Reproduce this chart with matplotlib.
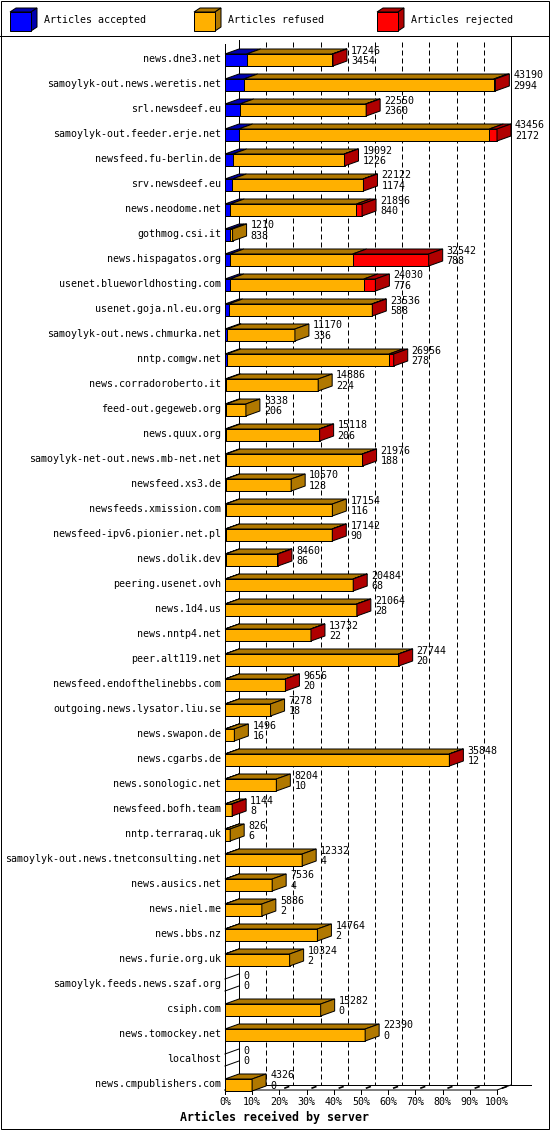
import numpy as np
import matplotlib
matplotlib.use("Agg")
import matplotlib.pyplot as plt
from matplotlib.patches import Polygon, Rectangle

# servers, top to bottom
hosts = [
    "news.dne3.net", "samoylyk-out.news.weretis.net", "srl.newsdeef.eu",
    "samoylyk-out.feeder.erje.net", "newsfeed.fu-berlin.de", "srv.newsdeef.eu",
    "news.neodome.net", "gothmog.csi.it", "news.hispagatos.org",
    "usenet.blueworldhosting.com", "usenet.goja.nl.eu.org",
    "samoylyk-out.news.chmurka.net", "nntp.comgw.net", "news.corradoroberto.it",
    "feed-out.gegeweb.org", "news.quux.org", "samoylyk-net-out.news.mb-net.net",
    "newsfeed.xs3.de", "newsfeeds.xmission.com", "newsfeed-ipv6.pionier.net.pl",
    "news.dolik.dev", "peering.usenet.ovh", "news.1d4.us", "news.nntp4.net",
    "peer.alt119.net", "newsfeed.endofthelinebbs.com",
    "outgoing.news.lysator.liu.se", "news.swapon.de", "news.cgarbs.de",
    "news.sonologic.net", "newsfeed.bofh.team", "nntp.terraraq.uk",
    "samoylyk-out.news.tnetconsulting.net", "news.ausics.net", "news.niel.me",
    "news.bbs.nz", "news.furie.org.uk", "samoylyk.feeds.news.szaf.org",
    "csiph.com", "news.tomockey.net", "localhost", "news.cmpublishers.com",
]
total = [17246, 43190, 22550, 43456, 19092, 22122, 21896, 1210, 32542, 24030,
         23536, 11170, 26956, 14886, 3338, 15118, 21976, 10570, 17154, 17142,
         8460, 20484, 21064, 13732, 27744, 9656, 7278, 1496, 35848, 8204,
         1144, 826, 12332, 7536, 5886, 14764, 10324, 0, 15282, 22390, 0, 4326]
accepted = [3454, 2994, 2360, 2172, 1226, 1174, 840, 838, 788, 776,
            588, 336, 278, 224, 206, 206, 188, 128, 116, 90,
            86, 68, 28, 22, 20, 20, 18, 16, 12, 10,
            8, 6, 4, 4, 2, 2, 2, 0, 0, 0, 0, 0]
# rejected counts read off the red segments (estimated)
rejected = [100, 250, 80, 1230, 60, 60, 900, 0, 12150, 1860,
            80, 0, 750, 0, 0, 60, 50, 0, 0, 40,
            80, 40, 40, 30, 30, 30, 0, 0, 30, 0,
            100, 0, 0, 0, 0, 0, 0, 0, 0, 0, 0, 0]
legend_names = ["Articles accepted", "Articles refused", "Articles rejected"]
tick_labels = ["%d%%" % p for p in range(0, 101, 10)]

front_cols = ["#0000ff", "#ffb000", "#ff0000"]
dark_cols = ["#0000b0", "#b07800", "#b00000"]

W, H = 550, 1130
X0_PX, PX_PCT = 225, 2.72
ROW0_PX, ROW_PX = 60, 25.0
LW = 0.72
MONO = "DejaVu Sans Mono"


def dx_(px):
    return px / PX_PCT


def dy_(px):
    return px / ROW_PX


def xpx(px):
    return (px - X0_PX) / PX_PCT


def ypx(px):
    return (px - ROW0_PX) / ROW_PX


fig = plt.figure(figsize=(W / 100, H / 100), dpi=100)
fig.patch.set_facecolor("white")

# overlay in pixel units for the frame and legend
lax = fig.add_axes([0, 0, 1, 1])
lax.set_xlim(0, W)
lax.set_ylim(H, 0)
lax.axis("off")
lax.patch.set_alpha(0)

ax = fig.add_axes([0, 0, 1, 1])
ax.set_xlim(xpx(0), xpx(W))
ax.set_ylim(ypx(H), ypx(0))
ax.axis("off")
ax.patch.set_alpha(0)

# frame and legend
lax.add_patch(Rectangle((0.5, 0.5), W - 1.5, H - 1.5, fill=False, ec="black", lw=LW))
lax.plot([0, W], [36, 36], color="black", lw=LW)
for k, name in enumerate(legend_names):
    x0 = [10, 194, 377][k]
    fx, fy, fw, fh, cd, cdy = x0, 12, 21, 19, 6, 4
    lax.add_patch(Polygon([(fx, fy), (fx + cd, fy - cdy), (fx + fw + cd, fy - cdy),
                           (fx + fw, fy)], closed=True, fc=dark_cols[k], ec="black", lw=LW))
    lax.add_patch(Polygon([(fx + fw, fy), (fx + fw + cd, fy - cdy),
                           (fx + fw + cd, fy + fh - cdy), (fx + fw, fy + fh)],
                          closed=True, fc=dark_cols[k], ec="black", lw=LW))
    lax.add_patch(Rectangle((fx, fy), fw, fh, fc=front_cols[k], ec="black", lw=LW))
    lax.text(x0 + 34, 20, name, family=MONO, fontsize=7.2, va="center", ha="left")

ddx, ddy, half = dx_(14), dy_(5), dy_(6)
n = len(hosts)
yfront, yback = ypx(1090), ypx(1085)

# walls, floor and grid
for k in range(1, 10):
    ax.plot([10 * k + ddx] * 2, [ypx(42), yback], color="black", lw=LW,
            linestyle=(0, (5, 3)), zorder=1)
ax.plot([0, 0], [ypx(44), yfront], color="black", lw=LW, zorder=1)
ax.plot([ddx, ddx], [ypx(40), yback], color="black", lw=LW, zorder=1)
ax.plot([100 + ddx] * 2, [ypx(37), yback], color="black", lw=LW, zorder=1)
ax.plot([0, 100, 100 + ddx], [yfront, yfront, yback], color="black", lw=LW, zorder=1)
ax.plot([0, ddx], [yfront, yback], color="black", lw=LW, zorder=1)
ax.plot([ddx, xpx(531)], [yback, yback], color="black", lw=LW, zorder=1)
for k, lab in enumerate(tick_labels):
    x = 10 * k
    ax.plot([x, x], [yfront, ypx(1094)], color="black", lw=LW, zorder=1)
    if k > 0:
        ax.plot([x + 0.4 * ddx, x + 0.65 * ddx], [yfront - 0.4 * ddy, yfront - 0.65 * ddy],
                color="black", lw=1.2, zorder=1)
    ax.text(x, ypx(1102), lab, family=MONO, fontsize=7.2, ha="center", va="center")
ax.text(xpx(274), ypx(1117), "Articles received by server", family=MONO,
        fontsize=8.4, fontweight="bold", ha="center", va="center")

# bars
scale = 100.0 / max(total)
for i in range(n):
    y = i
    top, bot = y - half, y + half
    refused = total[i] - accepted[i] - rejected[i]
    vals = np.array([accepted[i], refused, rejected[i]]) * scale
    left = 0.0
    last = None
    for j, v in enumerate(vals):
        if v <= 0:
            continue
        a, b = left, left + v
        ax.add_patch(Polygon([(a, top), (a + ddx, top - ddy), (b + ddx, top - ddy), (b, top)],
                             closed=True, fc=dark_cols[j], ec="black", lw=LW, zorder=3))
        ax.add_patch(Rectangle((a, top), v, 2 * half, fc=front_cols[j], ec="black",
                               lw=LW, zorder=3))
        left = b
        last = j
    if last is None:
        ax.plot([0, ddx], [top, top - ddy], color="black", lw=LW, zorder=3)
        ax.plot([0, ddx], [bot, bot - ddy], color="black", lw=LW, zorder=3)
    else:
        b = left
        ax.add_patch(Polygon([(b, top), (b + ddx, top - ddy), (b + ddx, bot - ddy), (b, bot)],
                             closed=True, fc=dark_cols[last], ec="black", lw=LW, zorder=3))
    xt = left + ddx + dx_(4)
    ax.text(xt, y - dy_(9.5), str(total[i]), family=MONO, fontsize=7.2,
            ha="left", va="center", zorder=4)
    ax.text(xt, y + dy_(1), str(accepted[i]), family=MONO, fontsize=7.2,
            ha="left", va="center", zorder=4)
    ax.text(xpx(221), y - dy_(1), hosts[i], family=MONO, fontsize=7.2,
            ha="right", va="center")

fig.savefig("out.png", dpi=100)
